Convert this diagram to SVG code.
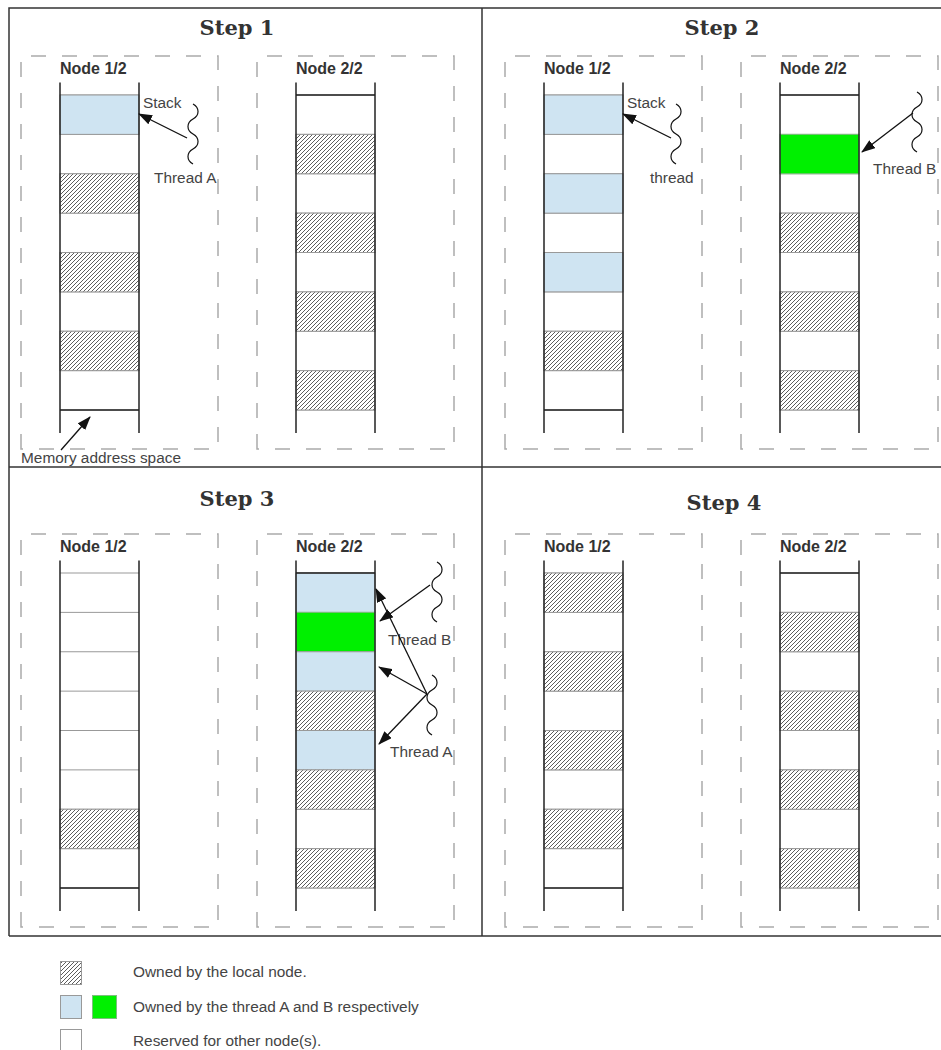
<svg xmlns="http://www.w3.org/2000/svg" width="941" height="1050" viewBox="0 0 941 1050">
  <style>
    .title { font-family: "DejaVu Serif", "Liberation Serif", serif; font-weight: bold; font-size: 21px; fill: #333; text-anchor: middle; }
    .nlabel { font-family: "Liberation Sans", Arial, sans-serif; font-weight: bold; font-size: 16px; fill: #333; }
    .lbl { font-family: "Liberation Sans", Arial, sans-serif; font-size: 15.4px; fill: #444; }
    .frame { fill: none; stroke: #333; stroke-width: 1.5; }
    .dash { fill: none; stroke: #aaa; stroke-width: 1.5; stroke-dasharray: 15 16; }
    .sep { stroke: #999; stroke-width: 1; }
    .rail { stroke: #222; stroke-width: 1.5; }
    .base { stroke: #222; stroke-width: 1.5; }
    .hatch { fill: url(#hatch); stroke: #999; stroke-width: 1; }
    .blue { fill: #cfe4f2; stroke: #999; stroke-width: 1; }
    .green { fill: #00f000; stroke: #7cbf7c; stroke-width: 1; }
    .white { fill: #fff; stroke: #999; stroke-width: 1; }
    .arrow { stroke: #111; stroke-width: 1.3; fill: none; marker-end: url(#head); }
    .wave { stroke: #111; stroke-width: 1.2; fill: none; }
  </style>
  <defs>
    <pattern id="hatch" patternUnits="userSpaceOnUse" width="4" height="4">
      <rect width="4" height="4" fill="#fff"/>
      <path d="M-1,1 l2,-2 M0,4 l4,-4 M3,5 l2,-2" stroke="#333" stroke-width="0.8"/>
    </pattern>
    <marker id="head" viewBox="0 0 14 10" refX="13" refY="5" markerWidth="14" markerHeight="10" markerUnits="userSpaceOnUse" orient="auto">
      <path d="M0,0 L14,5 L0,10 Z" fill="#111"/>
    </marker>
    <!-- thread symbol: vertical wavy line, 60px tall -->
    <path id="wave" class="wave" d="M0,0 c6.7,3.75 6.7,11.25 0,15 c-6.7,3.75 -6.7,11.25 0,15 c6.7,3.75 6.7,11.25 0,15 c-6.7,3.75 -6.7,11.25 0,15"/>
    <!-- column frame: dashed box and row separators -->
    <g id="colframe">
      <path class="dash" d="M-39,354 V-39 H158 V354 Z"/>
      <line class="sep" x1="0" y1="0" x2="79" y2="0"/>
      <line class="sep" x1="0" y1="39.375" x2="79" y2="39.375"/>
      <line class="sep" x1="0" y1="78.75" x2="79" y2="78.75"/>
      <line class="sep" x1="0" y1="118.125" x2="79" y2="118.125"/>
      <line class="sep" x1="0" y1="157.5" x2="79" y2="157.5"/>
      <line class="sep" x1="0" y1="196.875" x2="79" y2="196.875"/>
      <line class="sep" x1="0" y1="236.25" x2="79" y2="236.25"/>
      <line class="sep" x1="0" y1="275.625" x2="79" y2="275.625"/>
      <line class="sep" x1="0" y1="315" x2="79" y2="315"/>
    </g>
    <g id="rails">
      <line class="rail" x1="0" y1="-12.5" x2="0" y2="338"/>
      <line class="rail" x1="79" y1="-12.5" x2="79" y2="338"/>
    </g>
  </defs>

  <rect width="941" height="1050" fill="#fff"/>

  <!-- panel frames -->
  <g id="frames">
    <path class="frame" d="M9,936 V8 H941"/>
    <line class="frame" x1="482" y1="8" x2="482" y2="936"/>
    <line class="frame" x1="9" y1="467" x2="941" y2="467"/>
    <line class="frame" x1="9" y1="936" x2="941" y2="936"/>
  </g>

  <!-- Step 1 -->
  <g id="step1">
    <text class="title" x="237" y="35">Step 1</text>
    <g id="s1-node1" transform="translate(60,95)">
      <use href="#colframe"/>
      <text class="nlabel" x="0" y="-21">Node 1/2</text>
      <rect class="blue" x="0" y="0" width="79" height="39.375"/>
      <rect class="hatch" x="0" y="78.75" width="79" height="39.375"/>
      <rect class="hatch" x="0" y="157.5" width="79" height="39.375"/>
      <rect class="hatch" x="0" y="236.25" width="79" height="39.375"/>
      <line class="base" x1="0" y1="315" x2="79" y2="315"/>
      <use href="#rails"/>
    </g>
    <g id="s1-node2" transform="translate(296,95)">
      <use href="#colframe"/>
      <text class="nlabel" x="0" y="-21">Node 2/2</text>
      <rect class="hatch" x="0" y="39.375" width="79" height="39.375"/>
      <rect class="hatch" x="0" y="118.125" width="79" height="39.375"/>
      <rect class="hatch" x="0" y="196.875" width="79" height="39.375"/>
      <rect class="hatch" x="0" y="275.625" width="79" height="39.375"/>
      <line class="base" x1="0" y1="0" x2="79" y2="0"/>
      <use href="#rails"/>
    </g>
    <g id="s1-threadA">
      <use href="#wave" x="193" y="104"/>
      <text class="lbl" x="143" y="108">Stack</text>
      <text class="lbl" x="154" y="183">Thread A</text>
    </g>
    <text class="lbl" x="21" y="463">Memory address space</text>
  </g>

  <!-- Step 2 -->
  <g id="step2">
    <text class="title" x="722" y="35">Step 2</text>
    <g id="s2-node1" transform="translate(544,95)">
      <use href="#colframe"/>
      <text class="nlabel" x="0" y="-21">Node 1/2</text>
      <rect class="blue" x="0" y="0" width="79" height="39.375"/>
      <rect class="blue" x="0" y="78.75" width="79" height="39.375"/>
      <rect class="blue" x="0" y="157.5" width="79" height="39.375"/>
      <rect class="hatch" x="0" y="236.25" width="79" height="39.375"/>
      <line class="base" x1="0" y1="315" x2="79" y2="315"/>
      <use href="#rails"/>
    </g>
    <g id="s2-node2" transform="translate(780,95)">
      <use href="#colframe"/>
      <text class="nlabel" x="0" y="-21">Node 2/2</text>
      <rect class="green" x="0" y="39.375" width="79" height="39.375"/>
      <rect class="hatch" x="0" y="118.125" width="79" height="39.375"/>
      <rect class="hatch" x="0" y="196.875" width="79" height="39.375"/>
      <rect class="hatch" x="0" y="275.625" width="79" height="39.375"/>
      <line class="base" x1="0" y1="0" x2="79" y2="0"/>
      <use href="#rails"/>
    </g>
    <g id="s2-thread">
      <use href="#wave" x="676" y="104"/>
      <text class="lbl" x="627" y="108">Stack</text>
      <text class="lbl" x="650" y="183">thread</text>
    </g>
    <g id="s2-threadB">
      <use href="#wave" x="917" y="92"/>
      <text class="lbl" x="873" y="174">Thread B</text>
    </g>
  </g>

  <!-- Step 3 -->
  <g id="step3">
    <text class="title" x="237" y="506">Step 3</text>
    <g id="s3-node1" transform="translate(60,573)">
      <use href="#colframe"/>
      <text class="nlabel" x="0" y="-21">Node 1/2</text>
      <rect class="hatch" x="0" y="236.25" width="79" height="39.375"/>
      <line class="base" x1="0" y1="315" x2="79" y2="315"/>
      <use href="#rails"/>
    </g>
    <g id="s3-node2" transform="translate(296,573)">
      <use href="#colframe"/>
      <text class="nlabel" x="0" y="-21">Node 2/2</text>
      <rect class="blue" x="0" y="0" width="79" height="39.375"/>
      <rect class="green" x="0" y="39.375" width="79" height="39.375"/>
      <rect class="blue" x="0" y="78.75" width="79" height="39.375"/>
      <rect class="hatch" x="0" y="118.125" width="79" height="39.375"/>
      <rect class="blue" x="0" y="157.5" width="79" height="39.375"/>
      <rect class="hatch" x="0" y="196.875" width="79" height="39.375"/>
      <rect class="hatch" x="0" y="275.625" width="79" height="39.375"/>
      <line class="base" x1="0" y1="0" x2="79" y2="0"/>
      <use href="#rails"/>
    </g>
    <g id="s3-threadB">
      <use href="#wave" x="437" y="562"/>
      <text class="lbl" x="388" y="645">Thread B</text>
    </g>
    <g id="s3-threadA">
      <use href="#wave" x="432" y="675"/>
      <text class="lbl" x="390" y="757">Thread A</text>
    </g>
  </g>

  <!-- Step 4 -->
  <g id="step4">
    <text class="title" x="724" y="510">Step 4</text>
    <g id="s4-node1" transform="translate(544,573)">
      <use href="#colframe"/>
      <text class="nlabel" x="0" y="-21">Node 1/2</text>
      <rect class="hatch" x="0" y="0" width="79" height="39.375"/>
      <rect class="hatch" x="0" y="78.75" width="79" height="39.375"/>
      <rect class="hatch" x="0" y="157.5" width="79" height="39.375"/>
      <rect class="hatch" x="0" y="236.25" width="79" height="39.375"/>
      <line class="base" x1="0" y1="315" x2="79" y2="315"/>
      <use href="#rails"/>
    </g>
    <g id="s4-node2" transform="translate(780,573)">
      <use href="#colframe"/>
      <text class="nlabel" x="0" y="-21">Node 2/2</text>
      <rect class="hatch" x="0" y="39.375" width="79" height="39.375"/>
      <rect class="hatch" x="0" y="118.125" width="79" height="39.375"/>
      <rect class="hatch" x="0" y="196.875" width="79" height="39.375"/>
      <rect class="hatch" x="0" y="275.625" width="79" height="39.375"/>
      <line class="base" x1="0" y1="0" x2="79" y2="0"/>
      <use href="#rails"/>
    </g>
  </g>

  <!-- connectors -->
  <g id="connectors">
    <line class="arrow" x1="187" y1="138" x2="139" y2="114"/>
    <line class="arrow" x1="61" y1="450" x2="90" y2="417"/>
    <line class="arrow" x1="671" y1="138" x2="623" y2="114"/>
    <line class="arrow" x1="913" y1="113" x2="862" y2="152"/>
    <line class="arrow" x1="430" y1="585" x2="380" y2="621"/>
    <line class="arrow" x1="427" y1="694" x2="376" y2="589"/>
    <line class="arrow" x1="427" y1="694" x2="379" y2="667"/>
    <line class="arrow" x1="427" y1="694" x2="379" y2="744"/>
  </g>

  <!-- legend -->
  <g id="legend">
    <rect class="hatch" x="60.5" y="961.5" width="21" height="23"/>
    <text class="lbl" x="133" y="977">Owned by the local node.</text>
    <rect class="blue" x="60.5" y="995.5" width="21" height="23"/>
    <rect class="green" x="92.5" y="995.5" width="24" height="23"/>
    <text class="lbl" x="133" y="1012">Owned by the thread A and B respectively</text>
    <rect class="white" x="60.5" y="1029.5" width="21" height="23"/>
    <text class="lbl" x="133" y="1046">Reserved for other node(s).</text>
  </g>
</svg>
